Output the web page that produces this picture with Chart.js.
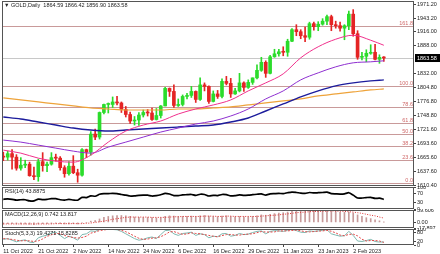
<!DOCTYPE html>
<html><head><meta charset="utf-8">
<script src="https://cdn.jsdelivr.net/npm/chart.js@4.4.0/dist/chart.umd.min.js"></script>
<style>
html,body{margin:0;padding:0;background:#fff;width:440px;height:254px;overflow:hidden;}
#wrap{position:relative;width:440px;height:254px;}
canvas{position:absolute;left:0;}
.lbl{position:absolute;font-family:"Liberation Sans",Arial,sans-serif;font-size:5.5px;color:#222;white-space:nowrap;line-height:1;}
</style></head><body>
<div id="wrap">
<canvas id="cMain" width="440" height="187" style="top:0px"></canvas>
<canvas id="cRsi" width="440" height="24" style="top:186px"></canvas>
<canvas id="cMacd" width="440" height="20" style="top:209px"></canvas>
<canvas id="cSto" width="440" height="26" style="top:228px"></canvas>
<div class="lbl" style="left:4px;top:3px">▼ GOLD,Daily&nbsp; 1864.59 1866.42 1856.90 1863.58</div>
<div class="lbl" style="left:5px;top:189px">RSI(14) 43.8875</div>
<div class="lbl" style="left:5px;top:212px">MACD(12,26,9) 0.742 13.817</div>
<div class="lbl" style="left:5px;top:231px">Stoch(5,3,3) 19.4271 15.8285</div>
</div>
<script>
// ---- data ----
const opens  = [1668,1666,1673,1666,1644,1650,1652,1629,1627,1657,1649,1652,1665,1664,1645,1633,1648,1635,1630,1681,1676,1712,1706,1755,1771,1771,1776,1774,1761,1751,1738,1740,1750,1755,1754,1741,1749,1768,1803,1797,1769,1771,1787,1789,1797,1781,1810,1807,1777,1792,1787,1817,1813,1792,1798,1814,1805,1815,1824,1839,1855,1833,1866,1872,1876,1875,1897,1920,1916,1908,1905,1932,1926,1931,1937,1946,1930,1928,1923,1928,1951,1912,1865,1867,1873,1875,1861,1864.59];
const highs  = [1676,1678,1681,1671,1665,1660,1656,1646,1662,1675,1656,1675,1672,1667,1649,1657,1669,1642,1683,1682,1717,1722,1756,1772,1774,1786,1787,1776,1767,1756,1747,1755,1760,1761,1764,1763,1769,1805,1804,1810,1782,1790,1793,1807,1798,1824,1814,1808,1798,1799,1822,1827,1823,1803,1833,1816,1820,1824,1850,1865,1858,1869,1881,1881,1886,1901,1922,1930,1920,1925,1935,1935,1936,1942,1949,1949,1937,1935,1930,1957,1960,1918,1875,1880,1890,1891,1870,1866.42];
const lows   = [1659,1660,1642,1640,1640,1645,1628,1621,1618,1638,1637,1650,1658,1640,1626,1630,1633,1616,1628,1665,1670,1701,1702,1752,1754,1765,1770,1755,1746,1733,1730,1729,1746,1748,1739,1740,1744,1768,1787,1765,1767,1768,1782,1785,1775,1779,1798,1773,1776,1783,1784,1810,1785,1791,1796,1797,1803,1811,1822,1837,1825,1832,1865,1867,1868,1867,1896,1908,1902,1896,1901,1919,1918,1929,1930,1918,1923,1917,1900,1920,1907,1861,1860,1856,1871,1860,1853,1856.90];
const closes = [1666,1673,1666,1644,1650,1652,1629,1627,1657,1649,1652,1665,1664,1645,1633,1648,1635,1630,1681,1676,1712,1706,1755,1771,1771,1776,1774,1761,1751,1738,1740,1750,1755,1754,1741,1749,1768,1803,1797,1769,1771,1787,1789,1797,1781,1810,1807,1777,1792,1787,1817,1813,1792,1798,1814,1805,1815,1824,1839,1855,1833,1866,1872,1876,1875,1897,1920,1916,1908,1905,1932,1926,1931,1937,1946,1930,1928,1923,1928,1951,1912,1865,1867,1873,1875,1861,1865,1863.58];

// moving averages read at every 4th candle
const maIdx  = [0,4,8,12,16,20,24,28,32,36,40,44,48,52,56,60,64,68,72,76,80,84,87];
const ma20   = [1680,1674,1664,1658,1656,1670,1696,1718,1730,1738,1752,1762,1770,1780,1798,1814,1832,1864,1886,1901,1909,1899,1889];
const ma50   = [1700,1696,1690,1684,1678,1674,1686,1696,1706,1716,1724,1732,1738,1748,1762,1782,1798,1820,1834,1846,1854,1856,1858];
const ma100  = [1746,1742,1736,1730,1724,1720,1718,1720,1722,1724,1726,1728,1730,1736,1744,1758,1772,1786,1798,1808,1814,1818,1820];
const ma200  = [1784,1780,1776,1772,1768,1764,1762,1760,1760,1760,1762,1762,1764,1766,1770,1774,1778,1782,1788,1792,1796,1800,1802];

const fibNames  = ["0.0","23.6","38.2","50.0","61.8","78.6","100.0","161.8"];
const fibPrices = [1614.5,1660.1,1688.3,1711.2,1734.0,1766.4,1807.8,1927.3];

const priceTicks = [1971.20,1943.20,1916.00,1888.00,1832.00,1804.80,1776.80,1748.80,1721.60,1693.60,1665.60,1637.60,1610.40];
const lastPrice = 1863.58;

const rsi = [44,46,44,40,42,42,37,37,45,43,44,47,47,42,40,44,41,40,53,52,60,58,67,70,70,71,70,66,63,59,60,62,63,63,59,61,65,71,68,61,61,64,65,66,62,67,66,59,62,61,66,65,60,61,64,62,63,65,67,69,63,69,70,71,70,74,77,75,72,71,75,73,74,75,77,70,69,68,69,74,63,50,50,52,53,48,49,43.8875];
const rsiTicks = [100,70,30,0];

const macdMain   = [-5,-4,-4,-5,-5,-5,-6,-7,-5,-4,-4,-4,-3,-4,-5,-5,-4,-5,-2,0,4,6,11,16,19,21,22,22,21,19,17,16,16,16,15,14,15,19,21,20,19,19,19,20,19,21,22,20,19,18,20,21,19,18,19,18,18,19,21,24,23,26,28,30,31,33,36,37,37,36,37,37,37,37,38,37,35,33,32,33,30,24,19,15,12,8,5,0.742];
const macdSignal = [-5,-5,-5,-5,-5,-5,-5,-5,-5,-5,-5,-5,-4,-4,-4,-4,-4,-4,-4,-3,-2,0,2,4,7,10,12,14,16,17,17,17,17,17,16,16,16,16,17,18,18,19,19,19,19,19,20,20,20,19,19,20,20,19,19,19,19,19,19,20,21,22,23,24,26,27,29,31,32,33,34,35,35,36,36,37,36,36,35,34,33,31,29,26,23,21,17,13.817];
const macdTicks = [39.606,0,-17.897];
const macdTickText = ["39.606","0.00","-17.897"];

const stoMain = [35,40,30,20,28,32,18,15,45,55,62,75,80,60,40,55,45,30,65,70,88,85,97,99,98,97,95,85,70,55,40,30,35,45,50,40,65,90,92,70,60,72,75,80,60,70,65,45,55,52,70,72,55,60,72,65,68,78,85,88,70,85,90,88,85,92,97,90,80,78,88,85,88,92,95,70,62,55,58,85,60,25,22,28,35,22,18,19.4271];
const stoSig  = [40,38,35,30,26,27,26,22,26,38,54,64,72,72,60,52,47,43,47,55,74,81,90,94,98,98,97,92,83,70,55,42,35,37,43,45,52,65,82,84,74,67,69,76,72,70,65,60,55,51,59,65,66,62,62,66,68,70,77,84,81,81,82,88,88,88,91,93,89,83,82,84,87,88,92,86,76,62,58,66,68,57,36,25,28,28,25,15.8285];
const stoTicks = [100,80,20,0];

const dateTickIdx = [0,8,16,24,32,40,48,56,64,72,80];
const dateTickText = ["11 Oct 2022","21 Oct 2022","2 Nov 2022","14 Nov 2022","24 Nov 2022","6 Dec 2022","16 Dec 2022","29 Dec 2022","11 Jan 2023","23 Jan 2023","2 Feb 2023"];

// ---- styling / helpers ----
const FONT = {family:'"Liberation Sans", Arial, sans-serif', size:5.5};
const UP = '#2bdc2b', DN = '#e42424';
const XMIN = -0.3, XMAX = 93.9;
const AXW = 26;

const framePlugin = {
  id:'frame',
  afterDraw(chart){
    const {ctx, chartArea:a} = chart;
    ctx.save();
    ctx.strokeStyle = '#555'; ctx.lineWidth = 1;
    ctx.strokeRect(a.left+0.5, a.top+0.5, a.right-a.left-1, a.bottom-a.top-1);
    ctx.restore();
  }
};

function yAxis(min, max, ticks, fmt){
  return {
    position:'right', min, max,
    afterFit(s){ s.width = AXW; s.paddingTop = 0; s.paddingBottom = 0; },
    afterBuildTicks(s){ s.ticks = ticks.map(v=>({value:v})); },
    ticks:{font:FONT, color:'#222', padding:1, callback:fmt, autoSkip:false},
    grid:{drawOnChartArea:false, drawTicks:true, tickLength:2, color:'#444'},
    border:{display:false}
  };
}
function xHidden(){ return {type:'linear', min:XMIN, max:XMAX, display:false, offset:false}; }
const baseOpts = {animation:false, responsive:false, maintainAspectRatio:false, devicePixelRatio:1,
  plugins:{legend:{display:false}, tooltip:{enabled:false}}, events:[]};

const idx = closes.map((_,i)=>i);
const candleCol = idx.map(i => closes[i] >= opens[i] ? UP : DN);
const maPts = arr => arr.map((v,k)=>({x:maIdx[k], y:v}));

// ---- main chart ----
const mainOverlay = {
  id:'mainOverlay',
  beforeDatasetsDraw(chart){
    const {ctx, chartArea:a, scales:{y}} = chart;
    ctx.save();
    ctx.lineWidth = 1;
    fibPrices.forEach((p,k)=>{
      const py = Math.round(y.getPixelForValue(p)) + 0.5;
      ctx.strokeStyle = '#c99a9a';
      ctx.beginPath(); ctx.moveTo(a.left, py); ctx.lineTo(a.right, py); ctx.stroke();
      ctx.fillStyle = '#d06a6a';
      ctx.font = '5.5px "Liberation Sans", Arial, sans-serif';
      ctx.textAlign = 'right'; ctx.textBaseline = 'bottom';
      ctx.fillText(fibNames[k], a.right-1, py-0.5);
    });
    const lp = Math.round(y.getPixelForValue(lastPrice)) + 0.5;
    ctx.strokeStyle = '#c8c8c8';
    ctx.beginPath(); ctx.moveTo(a.left, lp); ctx.lineTo(a.right, lp); ctx.stroke();
    ctx.restore();
  },
  afterDraw(chart){
    const {ctx, chartArea:a, scales:{y}} = chart;
    const lp = y.getPixelForValue(lastPrice);
    ctx.save();
    ctx.fillStyle = '#000';
    ctx.fillRect(a.right+1, lp-4, 25, 8);
    ctx.fillStyle = '#fff';
    ctx.font = '5.5px "Liberation Sans", Arial, sans-serif';
    ctx.textAlign = 'left'; ctx.textBaseline = 'middle';
    ctx.fillText(lastPrice.toFixed(2), a.right+3, lp);
    ctx.restore();
  }
};

new Chart(document.getElementById('cMain'), {
  type:'bar',
  data:{datasets:[
    {type:'line', data:maPts(ma20),  borderColor:'#f0308c', borderWidth:1,   pointRadius:0, cubicInterpolationMode:'monotone', order:0},
    {type:'line', data:maPts(ma50),  borderColor:'#8e2fd0', borderWidth:1,   pointRadius:0, cubicInterpolationMode:'monotone', order:0},
    {type:'line', data:maPts(ma100), borderColor:'#1c1c9c', borderWidth:1.4, pointRadius:0, cubicInterpolationMode:'monotone', order:0},
    {type:'line', data:maPts(ma200), borderColor:'#eea33a', borderWidth:1.2, pointRadius:0, cubicInterpolationMode:'monotone', order:0},
    {type:'bar', data:idx.map(i=>({x:i, y:[lows[i], highs[i]]})), backgroundColor:candleCol, barThickness:1, grouped:false, order:2},
    {type:'bar', data:idx.map(i=>({x:i, y:[opens[i], closes[i]]})), backgroundColor:candleCol, barThickness:3, grouped:false, minBarLength:1, order:1}
  ]},
  options:{...baseOpts,
    layout:{padding:{left:2, top:1, right:0, bottom:1}},
    scales:{x:xHidden(), y:yAxis(1608.5, 1977.2, priceTicks, v=>Number(v).toFixed(2))}
  },
  plugins:[mainOverlay, framePlugin]
});

// ---- RSI ----
new Chart(document.getElementById('cRsi'), {
  type:'line',
  data:{datasets:[{data:idx.map(i=>({x:i, y:rsi[i]})), borderColor:'#000', borderWidth:1.7, pointRadius:0, tension:0.2}]},
  options:{...baseOpts,
    layout:{padding:{left:2, top:1, right:0, bottom:1}},
    scales:{x:xHidden(), y:yAxis(0, 100, rsiTicks, v=>String(v))}
  },
  plugins:[framePlugin]
});

// ---- MACD ----
new Chart(document.getElementById('cMacd'), {
  type:'bar',
  data:{datasets:[
    {type:'line', data:idx.map(i=>({x:i, y:macdSignal[i]})), borderColor:'#e03030', borderWidth:1, borderDash:[1,1.5], pointRadius:0, order:0},
    {type:'bar', data:idx.map(i=>({x:i, y:macdMain[i]})), backgroundColor:'#c79a9a', barThickness:1, order:1}
  ]},
  options:{...baseOpts,
    layout:{padding:{left:2, top:1, right:0, bottom:1}},
    scales:{x:xHidden(), y:yAxis(-17.897, 39.606, macdTicks, (v,k)=>macdTickText[k])}
  },
  plugins:[framePlugin]
});

// ---- Stochastic ----
new Chart(document.getElementById('cSto'), {
  type:'line',
  data:{datasets:[
    {data:idx.map(i=>({x:i, y:stoSig[i]})), borderColor:'#e04848', borderWidth:1, borderDash:[2,1.5], pointRadius:0},
    {data:idx.map(i=>({x:i, y:stoMain[i]})), borderColor:'#7db8b0', borderWidth:1, pointRadius:0}
  ]},
  options:{...baseOpts,
    layout:{padding:{left:2, top:1, right:0, bottom:0}},
    scales:{
      x:{type:'linear', min:XMIN, max:XMAX, offset:false, position:'bottom',
        afterFit(s){ s.height = 9; s.paddingLeft = 0; s.paddingRight = 0; },
        afterBuildTicks(s){ s.ticks = dateTickIdx.map(v=>({value:v})); },
        ticks:{font:FONT, color:'#222', padding:1, align:'start', maxRotation:0, autoSkip:false,
          callback:(v,k)=>dateTickText[k]},
        grid:{drawOnChartArea:false, drawTicks:true, tickLength:2, color:'#444'},
        border:{display:false}},
      y:yAxis(0, 100, stoTicks, v=>String(v))
    }
  },
  plugins:[framePlugin]
});
</script>
</body></html>
